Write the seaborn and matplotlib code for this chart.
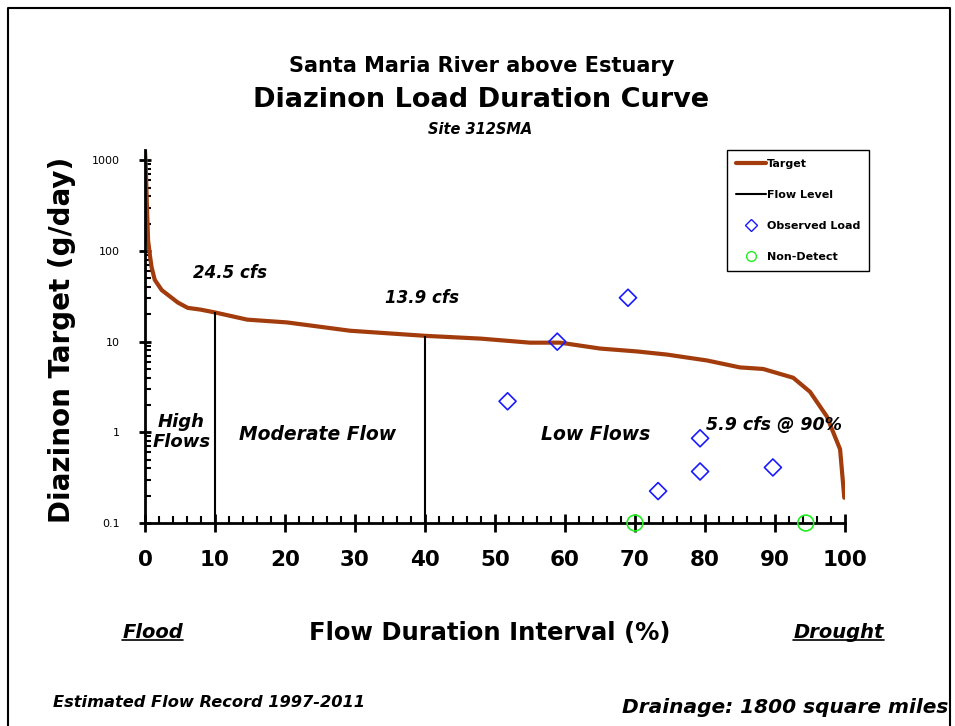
import matplotlib
matplotlib.use("Agg")
import matplotlib.pyplot as plt
import seaborn as sns
import pandas as pd
from matplotlib.lines import Line2D
from matplotlib.ticker import MultipleLocator, LogLocator, NullFormatter, FixedLocator

# target load duration curve (flow duration %, g/day)
target_pct = [0, 0.1, 0.3, 0.45, 0.7, 0.95, 1.4, 2.4, 4.7, 6.1, 7.9, 10, 14.6, 20.3,
              29.3, 40, 48, 55, 59.3, 65, 70.3, 74.6, 80.3, 85, 88.3, 92.6, 95,
              97.4, 99.3, 99.9]
target_load = [1300, 900, 280, 130, 90, 66, 48, 37, 27, 23.6, 22.6, 21, 17.5, 16.3,
               13.2, 11.6, 10.8, 9.75, 9.75, 8.4, 7.8, 7.2, 6.2, 5.2, 5.0, 4.0, 2.8,
               1.5, 0.65, 0.19]

# flow level markers
flow_pct = [10, 40]
flow_load = [21, 11.6]
flow_labels = ["24.5 cfs", "13.9 cfs"]

# observed loads
obs_pct = [51.8, 58.9, 69.0, 73.3, 79.3, 79.3, 89.7]
obs_load = [2.2, 10.0, 30.5, 0.225, 0.86, 0.37, 0.41]

# non-detects
nd_pct = [70.0, 94.4]
nd_load = [0.1, 0.1]

target = pd.DataFrame({"pct": target_pct, "load": target_load})
obs = pd.DataFrame({"pct": obs_pct, "load": obs_load})
nd = pd.DataFrame({"pct": nd_pct, "load": nd_load})

sns.set_style("ticks")
plt.rcParams["font.family"] = ["DejaVu Sans"]
plt.rcParams.update({"text.color": "black", "axes.labelcolor": "black",
                     "xtick.color": "black", "ytick.color": "black",
                     "axes.edgecolor": "black"})

brown = "#A23C0C"
fig = plt.figure(figsize=(9.55, 7.26), dpi=100)
ax = fig.add_axes([0.1518, 0.2796, 0.733, 0.5138])

sns.lineplot(data=target, x="pct", y="load", color=brown, lw=3, ax=ax,
             sort=False, estimator=None)
for p, v in zip(flow_pct, flow_load):
    ax.vlines(p, 0.1, v, color="black", lw=1.5)
sns.scatterplot(data=obs, x="pct", y="load", marker="D", s=75, color="blue", ax=ax,
                zorder=5)
ax.collections[-1].set_facecolor("none")
ax.collections[-1].set_edgecolor("#1a1aff")
ax.collections[-1].set_linewidth(1.2)
sns.scatterplot(data=nd, x="pct", y="load", marker="o", s=130, color="lime", ax=ax,
                zorder=6, clip_on=False)
ax.collections[-1].set_facecolor("none")
ax.collections[-1].set_edgecolor("#22ee22")
ax.collections[-1].set_linewidth(1.2)

ax.set_yscale("log")
ax.set_xlim(0, 100)
ax.set_ylim(0.1, 1300)
ax.set_xlabel("")
ax.set_ylabel("")
sns.despine(ax=ax)
for s in ["left", "bottom"]:
    ax.spines[s].set_linewidth(2)

ax.xaxis.set_major_locator(MultipleLocator(10))
ax.xaxis.set_minor_locator(MultipleLocator(2))
ax.yaxis.set_major_locator(FixedLocator([0.1, 1, 10, 100, 1000]))
ax.yaxis.set_minor_locator(LogLocator(base=10, subs=range(2, 10)))
ax.yaxis.set_minor_formatter(NullFormatter())
ax.set_yticklabels(["0.1", "1", "10", "100", "1000"])
ax.tick_params(axis="x", which="major", direction="inout", length=13, width=2,
               pad=13, labelsize=15.5)
ax.tick_params(axis="x", which="minor", direction="in", length=5, width=1.5)
ax.tick_params(axis="y", which="major", direction="inout", length=8, width=2,
               pad=14, labelsize=8)
ax.tick_params(axis="y", which="minor", direction="in", length=4, width=1.5)
for t in ax.get_xticklabels():
    t.set_fontweight("bold")

# annotations
ax.text(6.9, 57, flow_labels[0], fontsize=12, fontweight="bold", style="italic",
        ha="left", va="center")
ax.text(34.3, 30, flow_labels[1], fontsize=12, fontweight="bold", style="italic",
        ha="left", va="center")
ax.text(5.2, 1.0, "High\nFlows", fontsize=13, fontweight="bold", style="italic",
        ha="center", va="center", linespacing=1.15)
ax.text(24.6, 0.95, "Moderate Flow", fontsize=13.5, fontweight="bold",
        style="italic", ha="center", va="center")
ax.text(64.4, 0.95, "Low Flows", fontsize=13.5, fontweight="bold", style="italic",
        ha="center", va="center")
ax.text(80.1, 1.22, "5.9 cfs @ 90%", fontsize=12.5, fontweight="bold",
        style="italic", ha="left", va="center")

handles = [
    Line2D([], [], color=brown, lw=3),
    Line2D([], [], color="black", lw=1.5),
    Line2D([], [], marker="D", ls="none", markersize=6, markerfacecolor="none",
           markeredgecolor="#1a1aff"),
    Line2D([], [], marker="o", ls="none", markersize=7, markerfacecolor="none",
           markeredgecolor="#22ee22"),
]
leg = ax.legend(handles, ["Target", "Flow Level", "Observed Load", "Non-Detect"],
                loc="upper left", bbox_to_anchor=(0.831, 1.0), fontsize=8,
                fancybox=False, edgecolor="black", framealpha=1,
                handlelength=2.7, handletextpad=0.1, labelspacing=1.9,
                borderpad=0.8, borderaxespad=0)
leg.get_frame().set_linewidth(1)
for t in leg.get_texts():
    t.set_fontweight("bold")

# titles and labels
fig.text(0.504, 0.909, "Santa Maria River above Estuary", ha="center", va="center",
         fontsize=15, fontweight="bold")
fig.text(0.504, 0.862, "Diazinon Load Duration Curve", ha="center", va="center",
         fontsize=19.5, fontweight="bold")
fig.text(0.503, 0.822, "Site 312SMA", ha="center", va="center", fontsize=10.5,
         fontweight="bold", style="italic")
fig.text(0.065, 0.532, "Diazinon Target (g/day)", ha="center", va="center",
         rotation=90, fontsize=20, fontweight="bold")
fig.text(0.513, 0.128, "Flow Duration Interval (%)", ha="center", va="center",
         fontsize=17.5, fontweight="bold")
flood = fig.text(0.16, 0.129, "Flood", ha="center", va="center", fontsize=14,
                 fontweight="bold", style="italic")
drought = fig.text(0.878, 0.129, "Drought", ha="center", va="center", fontsize=14,
                   fontweight="bold", style="italic")
fig.text(0.055, 0.033, "Estimated Flow Record 1997-2011", ha="left", va="center",
         fontsize=11.7, fontweight="bold", style="italic")
fig.text(0.993, 0.026, "Drainage: 1800 square miles", ha="right", va="center",
         fontsize=14.5, fontweight="bold", style="italic")

# underline Flood / Drought
fig.canvas.draw()
r = fig.canvas.get_renderer()
for t in (flood, drought):
    bb = t.get_window_extent(r).transformed(fig.transFigure.inverted())
    fig.add_artist(Line2D([bb.x0, bb.x1], [bb.y0 + 0.002, bb.y0 + 0.002],
                          color="black", lw=1.2, transform=fig.transFigure))

# page border (left, top, right)
fig.add_artist(Line2D([0.0084, 0.0084, 0.9948, 0.9948], [-0.01, 0.989, 0.989, -0.01],
                      color="black", lw=1.5, transform=fig.transFigure))

fig.savefig("out.png", dpi=100)
